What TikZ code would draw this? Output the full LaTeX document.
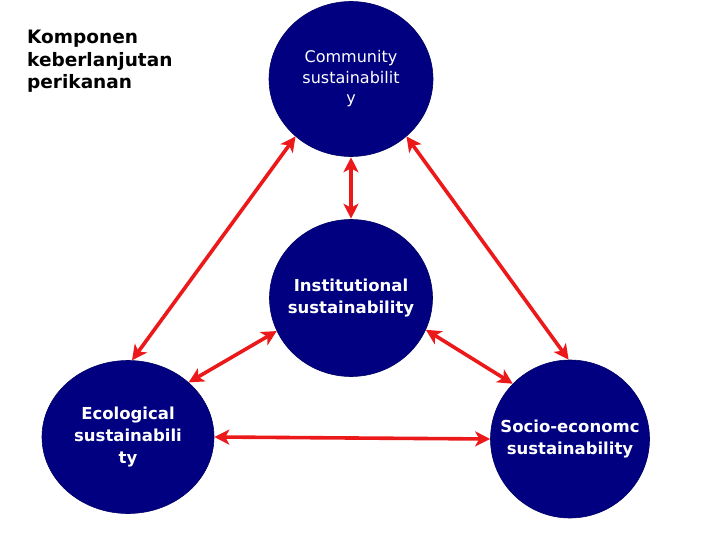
\documentclass[tikz,border=0pt]{standalone}
\usepackage{fontspec}
\setmainfont{DejaVu Sans}
\usetikzlibrary{shapes.geometric,arrows.meta}
\definecolor{pilarblue}{RGB}{0,0,128}
\definecolor{linkred}{RGB}{235,25,25}
\begin{document}
\begin{tikzpicture}[x=1pt,y=-1pt,
    pilar/.style={draw=pilarblue!80!black, line width=0.6pt, fill=pilarblue, ellipse, inner sep=0pt},
    pilartext/.style={text=white, align=center, font=\fontsize{16.5}{22}\selectfont\bfseries},
    link/.style={linkred, line width=3.6pt, {Stealth[length=15pt,width=15pt,inset=4pt]}-{Stealth[length=15pt,width=15pt,inset=4pt]}}]
            \useasboundingbox (0,0) rectangle (720,540);
            \node[anchor=north west, inner sep=0pt, align=left, font=\fontsize{18.5}{22.5}\selectfont\bfseries] (judul) at (27,30) {Komponen\\keberlanjutan\\perikanan};
            \node[pilar, minimum width=164pt, minimum height=155pt,
              label={[pilartext, font=\fontsize{16}{20.5}\selectfont]center:Community\\sustainabilit\\y}] (komunitas) at (351,79) {};
            \node[pilar, minimum width=163pt, minimum height=157pt,
              label={[pilartext, font=\fontsize{16.5}{21.5}\selectfont\bfseries]center:Institutional\\sustainability}] (institusi) at (351,298) {};
            \node[pilar, minimum width=172pt, minimum height=153pt,
              label={[pilartext]center:Ecological\\sustainabili\\ty}] (ekologi) at (128,437) {};
            \node[pilar, minimum width=159pt, minimum height=158pt,
              label={[pilartext]center:Socio-economc\\sustainability}] (sosek) at (570,439) {};
            \newcommand{\gap}{0.5pt}
            \draw[link, shorten <=\gap, shorten >=\gap] (komunitas.south) -- (institusi.north);
            \draw[link] (komunitas.-134) -- (ekologi.87);
            \draw[link] (komunitas.-46) -- (sosek.91);
            \draw[link] (institusi.-156) -- (ekologi.42);
            \draw[link] (institusi.-23) -- (sosek.136);
            \draw[link] (ekologi.east) -- (sosek.west);
        \end{tikzpicture}
\end{document}
